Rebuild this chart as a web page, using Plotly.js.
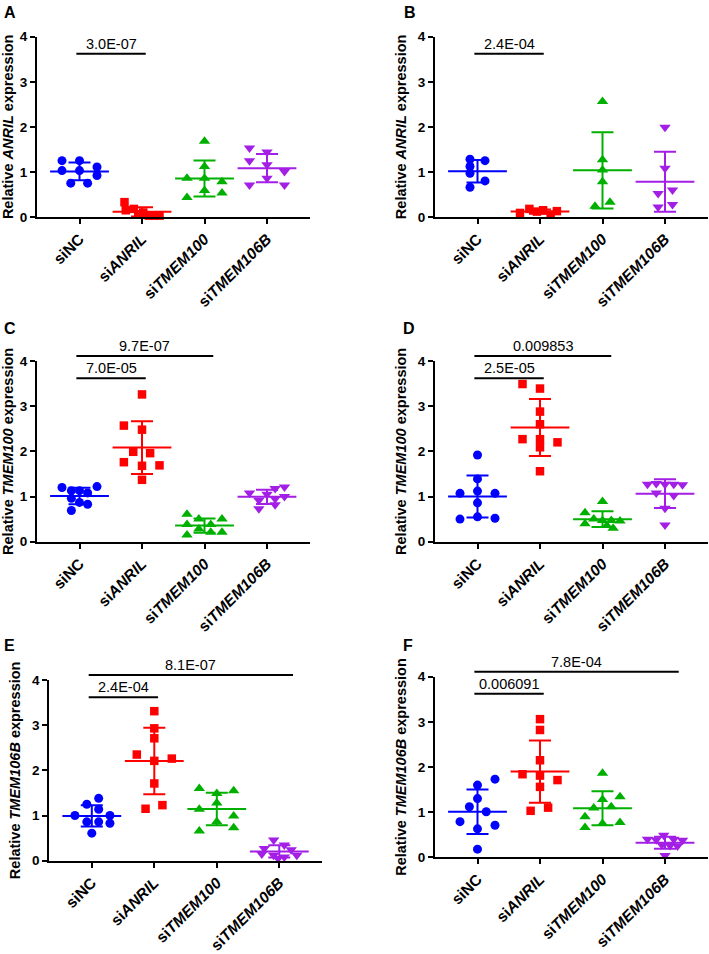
<!DOCTYPE html>
<html>
<head>
<meta charset="utf-8">
<script src="https://cdn.plot.ly/plotly-3.0.1.min.js"></script>
<style>
  html, body { margin: 0; padding: 0; background: #fff; }
  #chart { width: 709px; height: 954px; }
</style>
</head>
<body>
<div id="chart"></div>
<script>
'use strict';

// categories and tick labels
const groups = ['siNC', 'siANRIL', 'siTMEM100', 'siTMEM106B'];
const groupTicks = ['siNC', 'si<i>ANRIL</i>', 'si<i>TMEM100</i>', 'si<i>TMEM106B</i>'];
const panelLetters = ['A', 'B', 'C', 'D', 'E', 'F'];
const panelGenes = ['ANRIL', 'ANRIL', 'TMEM100', 'TMEM100', 'TMEM106B', 'TMEM106B'];

// relative expression per group (siNC, siANRIL, siTMEM100, siTMEM106B)
const valuesA = [
  [1.25, 1.25, 1.03, 1.03, 1.11, 0.92, 0.75, 0.75],
  [0.33, 0.15, 0.18, 0.06, 0.10, 0.03, 0.03, 0.03],
  [1.68, 1.12, 0.86, 0.86, 0.78, 0.59, 0.53, 0.43],
  [1.53, 1.44, 1.25, 1.16, 1.01, 0.86, 0.71, 0.71]
];
const valuesB = [
  [1.28, 1.25, 1.12, 0.97, 0.80, 0.66],
  [0.09, 0.18, 0.12, 0.15, 0.05, 0.13],
  [2.56, 1.27, 1.04, 0.78, 0.33, 0.24],
  [1.99, 1.08, 0.52, 0.60, 0.22, 0.28]
];
const valuesC = [
  [1.20, 1.22, 1.13, 1.13, 1.08, 0.96, 0.87, 0.83, 0.69],
  [3.26, 2.57, 2.48, 1.99, 1.96, 1.76, 1.68, 1.69, 1.37],
  [0.61, 0.50, 0.50, 0.38, 0.38, 0.28, 0.21, 0.21, 0.15],
  [1.08, 1.05, 1.18, 1.21, 1.00, 0.95, 0.92, 0.82, 0.73]
];
const valuesD = [
  [1.92, 1.39, 1.07, 1.12, 1.07, 0.86, 0.55, 0.50, 0.52],
  [3.49, 3.39, 2.88, 2.60, 2.27, 2.27, 2.20, 2.09, 1.56],
  [0.89, 0.64, 0.50, 0.47, 0.47, 0.46, 0.40, 0.36, 0.30],
  [1.27, 1.29, 1.27, 1.27, 1.26, 1.08, 1.02, 0.74, 0.37]
];
const valuesE = [
  [1.38, 1.25, 1.14, 1.00, 1.00, 0.86, 0.86, 0.83, 0.61],
  [3.31, 2.93, 2.71, 2.35, 2.26, 2.21, 1.71, 1.23, 1.15],
  [1.60, 1.55, 1.49, 1.28, 1.14, 0.99, 0.86, 0.73, 0.66],
  [0.46, 0.35, 0.27, 0.24, 0.15, 0.12, 0.12, 0.08, 0.05]
];
const valuesF = [
  [1.73, 1.60, 1.30, 1.12, 1.01, 0.79, 0.71, 0.63, 0.18],
  [3.06, 2.82, 2.15, 1.84, 1.81, 1.71, 1.56, 1.10, 1.03],
  [1.86, 1.34, 1.28, 1.09, 1.12, 0.90, 0.77, 0.75, 0.66],
  [0.49, 0.40, 0.39, 0.40, 0.38, 0.28, 0.26, 0.25, 0.04]
];

// horizontal scatter of the dots inside each group (category units), as seen in the figure
const jitterA = [
  [-0.28, 0, -0.28, 0, 0.28, 0.28, -0.14, 0.13],
  [-0.28, -0.26, -0.13, -0.06, 0.02, 0.11, 0.19, 0.28],
  [0, 0, -0.28, 0, 0.28, 0, 0.28, -0.28],
  [-0.28, 0, -0.28, 0, 0.28, 0, -0.28, 0.28]
];
const jitterB = [
  [-0.12, 0.12, -0.12, -0.12, 0.12, -0.12],
  [-0.32, -0.17, -0.05, 0.05, 0.17, 0.27],
  [0, 0, 0, 0, 0.12, -0.12],
  [0, 0, -0.11, 0.12, -0.11, 0.12]
];
const jitterC = [
  [-0.28, 0.28, -0.13, 0, 0.13, -0.13, 0, 0.13, -0.13],
  [0, -0.29, 0, -0.14, 0.13, -0.29, 0, 0.28, 0],
  [-0.28, -0.09, 0.28, -0.28, 0.1, -0.09, 0.1, 0.28, -0.28],
  [-0.28, 0, 0.13, 0.28, 0.28, 0.13, -0.13, 0.13, -0.13]
];
const jitterD = [
  [0, 0, -0.28, 0, 0.28, 0, 0, -0.28, 0.28],
  [-0.28, 0, 0, 0, -0.28, 0, 0.28, 0, 0],
  [0, -0.28, -0.14, 0, 0.14, 0.28, -0.28, 0.07, 0.17],
  [-0.28, -0.14, 0, 0.14, 0.28, -0.14, 0.14, 0, 0]
];
const jitterE = [
  [0.11, -0.08, 0.11, -0.27, 0.29, -0.08, 0.11, 0.29, 0],
  [0, 0, 0, -0.28, 0.28, 0, 0, 0.13, -0.14],
  [-0.28, 0.27, 0, 0, -0.28, 0.27, 0, 0.27, -0.28],
  [-0.09, 0.08, -0.24, 0.19, -0.28, 0.28, -0.09, 0.08, -0.02]
];
const jitterF = [
  [0.28, 0, 0, -0.13, 0.14, -0.28, 0.28, 0, 0],
  [0, 0, 0, -0.28, 0, 0.28, 0, 0.13, -0.15],
  [0, 0.28, 0, -0.14, 0.14, -0.28, 0.28, 0, -0.28],
  [-0.02, -0.28, -0.14, 0.14, 0.28, -0.05, 0.08, 0.2, 0]
];

// significance brackets: [from group, to group] and the p value printed above
const sigPairsA = [[0, 1]];
const sigTextA = ['3.0E-07'];
const sigPairsB = [[0, 1]];
const sigTextB = ['2.4E-04'];
const sigPairsC = [[0, 1], [0, 2]];
const sigTextC = ['7.0E-05', '9.7E-07'];
const sigPairsD = [[0, 1], [0, 2]];
const sigTextD = ['2.5E-05', '0.009853'];
const sigPairsE = [[0, 1], [0, 3]];
const sigTextE = ['2.4E-04', '8.1E-07'];
const sigPairsF = [[0, 1], [0, 3]];
const sigTextF = ['0.006091', '7.8E-04'];

const allValues = [valuesA, valuesB, valuesC, valuesD, valuesE, valuesF];
const allJitter = [jitterA, jitterB, jitterC, jitterD, jitterE, jitterF];
const allPairs = [sigPairsA, sigPairsB, sigPairsC, sigPairsD, sigPairsE, sigPairsF];
const allSigText = [sigTextA, sigTextB, sigTextC, sigTextD, sigTextE, sigTextF];

// look
const colors = ['#0000FF', '#FF0000', '#00B000', '#A31FE5'];
const symbols = ['circle', 'square', 'triangle-up', 'triangle-down'];
const symbolSizes = [9, 8.5, 10, 10];
const FONT = 'Liberation Sans, Arial, Helvetica, sans-serif';
const W = 709, H = 954;

// panel boxes in page pixels: left edge of x axis, y=4 and y=0 positions, letter centre
const boxes = [
  {left: 37, top: 36.7, bottom: 217, lx: 9.5, ly: 13},
  {left: 435, top: 36.7, bottom: 217, lx: 409.5, ly: 13},
  {left: 37, top: 361, bottom: 541.7, lx: 10, ly: 328},
  {left: 435, top: 361, bottom: 541.7, lx: 409, ly: 328},
  {left: 49.3, top: 680, bottom: 860.7, lx: 9.5, ly: 645},
  {left: 435, top: 676.7, bottom: 857.3, lx: 408, ly: 645}
];
const xRange = [-0.68, 3.68];
const boxWidth = 272.5;
const bracketRoom = 24;

function mean(a) {
  return a.reduce((s, v) => s + v, 0) / a.length;
}
function sd(a) {
  const m = mean(a);
  return Math.sqrt(a.reduce((s, v) => s + (v - m) * (v - m), 0) / (a.length - 1));
}

const data = [];
const layout = {
  width: W,
  height: H,
  margin: {l: 0, r: 0, t: 0, b: 0},
  paper_bgcolor: '#fff',
  plot_bgcolor: 'rgba(0,0,0,0)',
  showlegend: false,
  hovermode: false,
  font: {family: FONT, color: '#000'},
  annotations: []
};

boxes.forEach((b, p) => {
  const n = p + 1;
  const nb = p + 7;
  const xa = 'x' + n;
  const ya = 'y' + n;
  const yb = 'y' + nb;
  const h = b.bottom - b.top;

  layout['xaxis' + n] = {
    domain: [b.left / W, (b.left + boxWidth) / W],
    anchor: ya,
    range: xRange,
    tickvals: [0, 1, 2, 3],
    ticktext: groupTicks,
    tickangle: -45,
    tickfont: {family: FONT, size: 15.5, weight: 'bold'},
    ticks: 'outside',
    ticklen: 5,
    tickwidth: 2,
    tickcolor: '#000',
    showline: true,
    linewidth: 2,
    linecolor: '#000',
    showgrid: false,
    zeroline: false,
    fixedrange: true
  };
  layout['yaxis' + n] = {
    domain: [1 - b.bottom / H, 1 - b.top / H],
    anchor: xa,
    range: [0, 4],
    dtick: 1,
    tickfont: {family: FONT, size: 13.5, weight: 'bold'},
    ticks: 'outside',
    ticklen: 5,
    tickwidth: 2,
    tickcolor: '#000',
    showline: true,
    linewidth: 2,
    linecolor: '#000',
    showgrid: false,
    zeroline: false,
    fixedrange: true,
    title: {
      text: 'Relative <i>' + panelGenes[p] + '</i> expression',
      font: {family: FONT, size: 14.5, weight: 'bold'},
      standoff: 8
    }
  };
  // taller twin of the y axis, same scale, so brackets above y=4 are not clipped
  layout['yaxis' + nb] = {
    domain: [1 - b.bottom / H, Math.min(1, 1 - (b.top - bracketRoom) / H)],
    anchor: xa,
    range: [0, 4 * (h + bracketRoom) / h],
    visible: false,
    fixedrange: true
  };

  const vals = allValues[p];
  const jit = allJitter[p];

  vals.forEach((g, gi) => {
    // mean line with SD whiskers
    data.push({
      type: 'scatter',
      mode: 'markers',
      x: [gi],
      y: [mean(g)],
      xaxis: xa,
      yaxis: ya,
      marker: {symbol: 'line-ew', size: 42, line: {color: colors[gi], width: 2}},
      error_y: {type: 'data', array: [sd(g)], visible: true, color: colors[gi], thickness: 2, width: 11},
      cliponaxis: false
    });
    // individual samples
    data.push({
      type: 'scatter',
      mode: 'markers',
      name: groups[gi],
      x: g.map((v, k) => gi + jit[gi][k]),
      y: g,
      xaxis: xa,
      yaxis: ya,
      marker: {symbol: symbols[gi], size: symbolSizes[gi], color: colors[gi]},
      cliponaxis: false
    });
  });

  // significance brackets
  allPairs[p].forEach((pair, k) => {
    const level = 3.62 + 0.49 * k;
    const x0 = pair[0] - 0.05;
    const x1 = pair[1] + 0.06 + 0.08 * (pair[1] - 1);
    data.push({
      type: 'scatter',
      mode: 'lines',
      x: [x0, x1],
      y: [level, level],
      xaxis: xa,
      yaxis: yb,
      line: {color: '#000', width: 2}
    });
    layout.annotations.push({
      xref: xa,
      yref: yb,
      x: (x0 + x1) / 2,
      y: level,
      yanchor: 'bottom',
      showarrow: false,
      text: allSigText[p][k],
      font: {family: FONT, size: 14.5, color: '#000'}
    });
  });

  // panel letter
  layout.annotations.push({
    xref: 'paper',
    yref: 'paper',
    x: b.lx / W,
    y: 1 - b.ly / H,
    xanchor: 'center',
    yanchor: 'middle',
    showarrow: false,
    text: panelLetters[p],
    font: {family: FONT, size: 16, weight: 'bold', color: '#000'}
  });
});

Plotly.newPlot('chart', data, layout, {staticPlot: true, displayModeBar: false});
</script>
</body>
</html>
